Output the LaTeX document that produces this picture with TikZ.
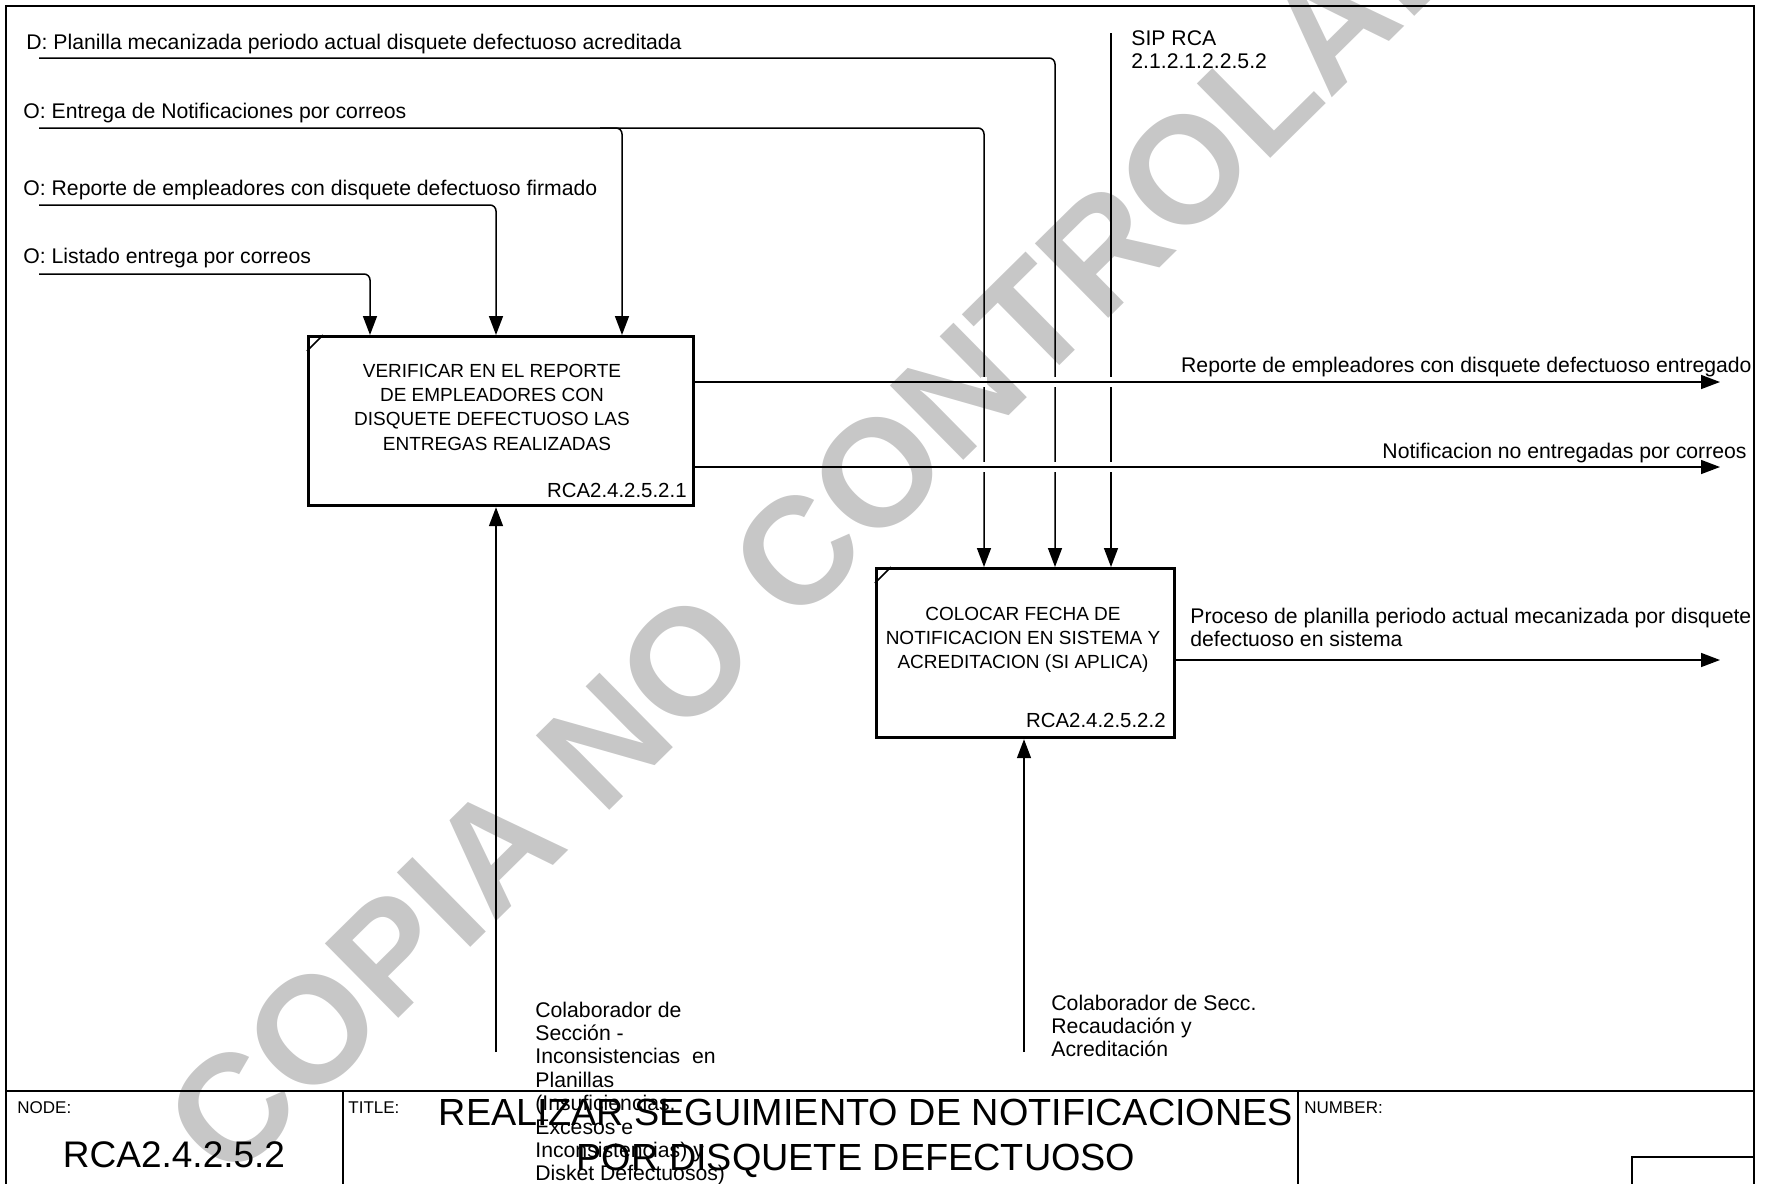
\documentclass[tikz,border=0pt]{standalone}
\usepackage{fontspec}
\setmainfont{Liberation Sans}
\usetikzlibrary{arrows.meta}

% stacked lines whose first baseline is the node's base
\newcommand\txtblock[2][l]{\begin{tabular}[t]{@{}#1@{}}#2\end{tabular}}

\begin{document}
\begin{tikzpicture}[x=0.5pt,y=-0.5pt,
  flow/.style={line width=0.75pt,-{Triangle[length=9.5pt,width=7pt]},rounded corners=3pt},
  actbox/.style={draw,line width=1.6pt,inner sep=0pt,anchor=north west},
  lbl/.style={inner sep=0pt,font=\fontsize{10.6}{11.7}\selectfont},
  boxtxt/.style={inner sep=0pt,font=\fontsize{9.5}{12.2}\selectfont},
  idtxt/.style={inner sep=0pt,font=\fontsize{10.2}{12}\selectfont,anchor=base east},
  small/.style={inner sep=0pt,font=\fontsize{8.5}{10}\selectfont,anchor=base west},
  frame/.style={line width=1pt},
  gap/.style={fill=white},
]
\useasboundingbox (0,0) rectangle (1768,1184);

% watermark
\node[inner sep=0pt,text=black!22,rotate=44.6,font=\bfseries\fontsize{76}{76}\selectfont] (wm) at (860,490) {COPIA NO CONTROLADA};

% sheet frame and title block
\draw[frame] (6,1184) -- (6,6) -- (1754,6) -- (1754,1184);
\draw[frame] (6,1091) -- (1754,1091);
\draw[frame] (343,1091) -- (343,1184);
\draw[frame] (1298,1091) -- (1298,1184);
\draw[frame] (1632,1184) -- (1632,1157) -- (1754,1157);

% activity boxes
\node[actbox,minimum width=192.5pt,minimum height=84.5pt] (A1) at (307,335) {};
\draw[line width=0.75pt] ([yshift=-8pt]A1.north west) -- ([xshift=8pt]A1.north west);
\node[boxtxt,anchor=base] (A1t) at (492,377) {\txtblock[c]{VERIFICAR EN EL REPORTE\\DE EMPLEADORES CON\\DISQUETE DEFECTUOSO LAS\\\hspace*{5pt}ENTREGAS REALIZADAS}};
\node[idtxt] (A1id) at (687,497) {RCA2.4.2.5.2.1};

\node[actbox,minimum width=149pt,minimum height=84.5pt] (A2) at (875,567) {};
\draw[line width=0.75pt] ([yshift=-8pt]A2.north west) -- ([xshift=8pt]A2.north west);
\node[boxtxt,anchor=base] (A2t) at (1023,620) {\txtblock[c]{COLOCAR FECHA DE\\NOTIFICACION EN SISTEMA Y\\ACREDITACION (SI APLICA)}};
\node[idtxt] (A2id) at (1166,727) {RCA2.4.2.5.2.2};

% boundary ends
\coordinate (inD) at (39,58);
\coordinate (inE) at (39,128);
\coordinate (inEb) at (600,128);
\coordinate (inR) at (39,205);
\coordinate (inL) at (39,274);
\coordinate (inS) at (1111,33);
\coordinate (out1) at (1720,382);
\coordinate (out2) at (1720,467);
\coordinate (out3) at (1720,660);
\coordinate (mech1) at (496,1052);
\coordinate (mech2) at (1024,1052);

% controls
\draw[flow] (inL) -| (A1.north -| 370,0);
\draw[flow] (inR) -| (A1.north -| 496,0);
\draw[flow] (inEb) -| (A1.north -| 622,0);
\draw[flow] (inE) -| (A2.north -| 984,0);
\draw[flow] (inD) -| (A2.north -| 1055,0);
\draw[flow] (inS) -- (A2.north -| 1111,0);

% breaks in the vertical lines where outputs cross
\foreach \gx in {984,1055,1111}{
  \foreach \gy in {382,467}{
    \fill[gap] (\gx-3,\gy-5) rectangle (\gx+3,\gy+5);
  }
}

% outputs
\draw[flow] (A1.east |- 0,382) -- (out1);
\draw[flow] (A1.east |- 0,467) -- (out2);
\draw[flow] (A2.east |- 0,660) -- (out3);

% mechanisms
\draw[flow] (mech1) -- (A1.south -| 496,0);
\draw[flow] (mech2) -- (A2.south -| 1024,0);

% arrow labels
\node[lbl,anchor=base west] (lD) at (26,49) {D: Planilla mecanizada periodo actual disquete defectuoso acreditada};
\node[lbl,anchor=base west] (lE) at (23,118) {O: Entrega de Notificaciones por correos};
\node[lbl,anchor=base west] (lR) at (23,195) {O: Reporte de empleadores con disquete defectuoso firmado};
\node[lbl,anchor=base west] (lL) at (23,263) {O: Listado entrega por correos};
\node[lbl,anchor=base west] (lS) at (1131,45) {\txtblock{SIP RCA\\2.1.2.1.2.2.5.2}};
\node[lbl,anchor=base east] (lo1) at (1752,372) {Reporte de empleadores con disquete defectuoso entregado};
\node[lbl,anchor=base east] (lo2) at (1747,458) {Notificacion no entregadas por correos};
\node[lbl,anchor=base west] (lo3) at (1190,623) {\txtblock{Proceso de planilla periodo actual mecanizada por disquete\\defectuoso en sistema}};
\node[lbl,anchor=base west] (lm1) at (535,1017) {\txtblock{Colaborador de\\Sección -\\Inconsistencias\ \ en\\Planillas\\(Insuficiencias,\\Excesos e\\Inconsistencias) y\\Disket Defectuosos)}};
\node[lbl,anchor=base west] (lm2) at (1051,1010) {\txtblock{Colaborador de Secc.\\Recaudación y\\Acreditación}};

% title block texts
\node[small] (tNode) at (17,1113) {NODE:};
\node[small] (tTitle) at (348,1113) {TITLE:};
\node[small] (tNum) at (1304,1113) {NUMBER:};
\node[inner sep=0pt,anchor=base,font=\fontsize{18.5}{20}\selectfont] (nodeNo) at (174,1167) {RCA2.4.2.5.2};
\node[inner sep=0pt,anchor=base,font=\fontsize{18.9}{20}\selectfont] (title1) at (866,1125) {REALIZAR SEGUIMIENTO DE NOTIFICACIONES};
\node[inner sep=0pt,anchor=base,font=\fontsize{18.9}{20}\selectfont] (title2) at (856,1170) {POR DISQUETE DEFECTUOSO};
\end{tikzpicture}
\end{document}
